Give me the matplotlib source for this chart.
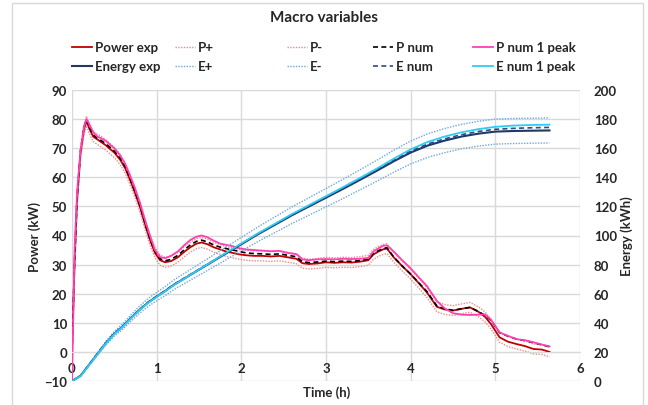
import matplotlib
matplotlib.use("Agg")
import matplotlib.pyplot as plt
from matplotlib.patches import Rectangle

plt.rcParams['font.family'] = ['Lato', 'DejaVu Sans']

t_p = [0, 0.03, 0.06, 0.1, 0.14, 0.17, 0.2, 0.25, 0.3, 0.35, 0.4, 0.45, 0.5, 0.57, 0.63, 0.68,
       0.74, 0.8, 0.86, 0.92, 0.98, 1.04, 1.1, 1.17, 1.25, 1.33, 1.4, 1.47, 1.53, 1.6, 1.67,
       1.75, 1.82, 1.9, 1.98, 2.06, 2.15, 2.25, 2.35, 2.45, 2.55, 2.65, 2.72, 2.8, 2.9, 3.0,
       3.1, 3.2, 3.3, 3.4, 3.5, 3.56, 3.62, 3.68, 3.72, 3.8, 3.9, 3.99, 4.1, 4.19, 4.31, 4.4,
       4.5, 4.6, 4.7, 4.8, 4.88, 4.95, 5.05, 5.15, 5.25, 5.35, 5.45, 5.55, 5.64]

power_exp = [0, 30, 52, 68, 76, 79.5, 77, 74, 73, 72, 71, 69.7, 68.5, 66, 63, 59.5, 55, 50, 44,
             38.5, 34, 31.5, 30.8, 31.2, 32.5, 34.5, 36, 37.2, 37.6, 37, 36, 35.2, 34.5, 34,
             33.5, 33.2, 33, 33, 32.8, 33, 32.5, 32, 30.5, 30.2, 30.4, 30.8, 30.6, 30.8, 30.7,
             31, 31.5, 33.5, 34.5, 35.3, 35.5, 32.5, 29.5, 27, 23.5, 20.5, 15.5, 14.6, 14.2,
             14.8, 15.3, 13.8, 12, 9.5, 5, 3.5, 2.7, 2, 1, 0.8, 0]

p_plus = [1.5, 31.7, 53.7, 69.7, 77.7, 81, 78.7, 75.7, 74.8, 73.9, 72.9, 71.5, 70.3, 67.8, 64.8,
          61.3, 56.8, 51.8, 45.8, 40.3, 35.8, 33.3, 32.5, 32.9, 34.2, 36.2, 37.7, 38.9, 39.3,
          38.7, 37.7, 36.9, 36.2, 35.7, 35.2, 34.9, 34.7, 34.7, 34.5, 34.7, 34.2, 33.7, 32.2,
          31.9, 32.1, 32.5, 32.3, 32.5, 32.4, 32.7, 33.2, 35.2, 36.2, 37, 37.2, 34.2, 31.2,
          28.7, 25.2, 22.2, 17.2, 16.3, 15.9, 16.5, 17, 15.5, 13.7, 11.2, 6.7, 5.2, 4.4, 3.7,
          2.7, 2.5, 1.7]

p_minus = [0, 28.3, 50.3, 66.3, 74.3, 77.8, 75.3, 72.3, 71.3, 70.3, 69.3, 68, 66.8, 64.3, 61.3,
           57.8, 53.3, 48.3, 42.3, 36.8, 32.3, 29.8, 29.1, 29.5, 30.8, 32.8, 34.3, 35.5, 35.9,
           35.3, 34.3, 33.5, 32.8, 32.3, 31.8, 31.5, 31.3, 31.3, 31.1, 31.3, 30.8, 30.3, 28.8,
           28.5, 28.7, 29.1, 28.9, 29.1, 29, 29.3, 29.8, 31.8, 32.8, 33.6, 33.8, 30.8, 27.8,
           25.3, 21.8, 18.8, 13.8, 12.9, 12.5, 13.1, 13.6, 12.1, 10.3, 7.8, 3.3, 1.8, 1, 0.3,
           -0.7, -0.9, -1.7]

p_num = [0, 31, 53, 69, 77, 79.8, 77.5, 74.6, 73.4, 72.5, 71.5, 70.3, 69, 66.5, 63.5, 60, 55.5,
         50.5, 44.5, 39, 34.5, 32, 31.3, 31.8, 33.2, 35.2, 36.8, 38, 38.4, 37.8, 36.8, 36, 35.5,
         35, 34.5, 34, 33.8, 33.7, 33.5, 33.7, 33.2, 32.7, 31, 30.7, 30.9, 31.2, 31, 31.2, 31.1,
         31.4, 31.9, 33.8, 34.8, 35.6, 35.8, 32.6, 29.5, 27, 23.6, 20.8, 15.8, 14.8, 14.3, 14.8,
         15.3, 13.9, 12.5, 10.8, 6.6, 5.4, 4.4, 3.9, 3.2, 2.4, 1.8]

p_num_1peak = [-10, 35, 55, 69, 77, 80, 78.5, 75.5, 74, 73.3, 72.5, 71.2, 70, 67.5, 64.5, 61,
               56.5, 51.5, 45.5, 40, 35, 32.6, 32.2, 33, 34.5, 36.8, 38.5, 39.6, 40, 39.4, 38.3,
               37.2, 36.8, 36.3, 35.6, 35.2, 35, 34.8, 34.6, 34.7, 34, 33.6, 31.8, 31.5, 31.8,
               31.9, 31.8, 32, 31.9, 32, 32.3, 34.5, 35.6, 36.5, 36.6, 34.5, 31.5, 29, 25.5,
               22.7, 17.5, 15, 13.3, 12.8, 12.7, 12.8, 12.9, 11, 6.7, 5.5, 4.4, 4, 3.3, 2.5, 1.9]

t_e = [0, 0.1, 0.2, 0.3, 0.4, 0.5, 0.6, 0.7, 0.8, 0.9, 1.0, 1.1, 1.2, 1.3, 1.4, 1.5, 1.6, 1.7,
       1.8, 1.9, 2.0, 2.2, 2.4, 2.6, 2.8, 3.0, 3.2, 3.4, 3.6, 3.8, 4.0, 4.2, 4.4, 4.6, 4.8, 5.0,
       5.2, 5.4, 5.64]

energy_exp = [0, 3.5, 11, 18.5, 26, 32.5, 37.5, 43.5, 49, 54, 58, 61.8, 66, 69.5, 73, 76.5, 80,
              83.5, 87, 90.5, 94, 101, 107.5, 114, 120, 126, 132, 138.2, 144.5, 151, 157, 161.8,
              165.2, 168, 170, 171.4, 171.8, 172, 172.2]

e_plus = [0, 3.7, 11.6, 19.4, 27.3, 34.1, 39.4, 45.7, 51.5, 56.7, 60.9, 64.9, 69.3, 73, 76.7,
          80.3, 84, 87.7, 91.4, 95, 98.7, 106, 112.9, 119.7, 126, 132.3, 138.6, 145.1, 151.7,
          158.6, 164.9, 169.9, 173.5, 176.4, 178.5, 180, 180.4, 180.6, 180.8]

e_minus = [0, 3.3, 10.5, 17.6, 24.7, 30.9, 35.6, 41.3, 46.6, 51.3, 55.1, 58.7, 62.7, 66, 69.4,
           72.7, 76, 79.3, 82.7, 86, 89.3, 96, 102.1, 108.3, 114, 119.7, 125.4, 131.3, 137.3,
           143.5, 149.2, 153.7, 156.9, 159.6, 161.5, 162.8, 163.2, 163.4, 163.6]

e_num = [0, 3.6, 11.2, 18.8, 26.3, 32.8, 37.8, 43.8, 49.3, 54.3, 58.3, 62.1, 66.3, 69.8, 73.3,
         76.8, 80.3, 83.8, 87.3, 90.8, 94.3, 101.3, 107.8, 114.4, 120.4, 126.5, 132.6, 138.8,
         145.2, 151.8, 158, 162.9, 166.4, 169.3, 171.5, 173, 173.6, 174, 174.3]

e_num_1peak = [0, 3.3, 10.7, 18.2, 25.7, 32.2, 37.3, 43.3, 48.8, 53.8, 57.8, 61.6, 65.8, 69.4,
               73, 76.6, 80.2, 83.8, 87.4, 91, 94.5, 101.6, 108.2, 114.8, 120.9, 127, 133.2,
               139.5, 146, 152.8, 159.2, 164.3, 168, 170.9, 173.1, 174.7, 175.5, 175.9, 176.2]

x_ticks = [0, 1, 2, 3, 4, 5, 6]
p_ticks = [-10, 0, 10, 20, 30, 40, 50, 60, 70, 80, 90]
e_ticks = [0, 20, 40, 60, 80, 100, 120, 140, 160, 180, 200]

W, H = 648, 406
fig = plt.figure(figsize=(W / 100, H / 100), dpi=100)
fig.patches.append(Rectangle((12 / W, -0.05), 631 / W, 1.05 - 4 / H, transform=fig.transFigure,
                             fill=False, edgecolor='#D9D9D9', linewidth=1))
ax = fig.add_axes([72 / W, 1 - 382 / H, 508 / W, 291 / H])
ax2 = ax.twinx()

grid_c = '#D9D9D9'
text_c = '#262626'
fs = 9.5

ax.set_xlim(0, 6)
ax.set_ylim(-10, 90)
ax2.set_ylim(0, 200)
ax.set_xticks(x_ticks)
ax.set_yticks(p_ticks)
ax2.set_yticks(e_ticks)
ax.grid(True, color=grid_c, linewidth=1)
ax.set_axisbelow(True)
for s in ['top', 'left', 'right']:
    ax.spines[s].set_visible(False)
    ax2.spines[s].set_visible(False)
ax2.spines['bottom'].set_visible(False)
ax.spines['bottom'].set_position(('data', 0))
ax.spines['bottom'].set_color(grid_c)
ax.tick_params(axis='both', length=0, labelsize=fs, labelcolor=text_c)
ax.tick_params(axis='x', pad=7)
ax2.tick_params(axis='y', length=0, labelsize=fs, labelcolor=text_c, pad=10)
for lab in ax.get_xticklabels() + ax.get_yticklabels() + ax2.get_yticklabels():
    lab.set_fontweight('bold')

l_pexp, = ax.plot(t_p, power_exp, color='#C00000', lw=1.3, label='Power exp')
l_pp, = ax.plot(t_p, p_plus, color='#EE8A8A', lw=1.0, ls=(0, (1, 1)), label='P+')
l_pm, = ax.plot(t_p, p_minus, color='#EE8A8A', lw=1.0, ls=(0, (1, 1)), label='P-')
l_pnum, = ax.plot(t_p, p_num, color='black', lw=1.2, ls=(0, (3, 2)), label='P num')
l_p1, = ax.plot(t_p, p_num_1peak, color='#FF3FB4', lw=1.3, label='P num 1 peak')

l_eexp, = ax2.plot(t_e, energy_exp, color='#1F3864', lw=1.5, label='Energy exp')
l_ep, = ax2.plot(t_e, e_plus, color='#6FA8DC', lw=1.0, ls=(0, (1, 1)), label='E+')
l_em, = ax2.plot(t_e, e_minus, color='#6FA8DC', lw=1.0, ls=(0, (1, 1)), label='E-')
l_enum, = ax2.plot(t_e, e_num, color='#2F4B8A', lw=1.2, ls=(0, (3, 2)), label='E num')
l_e1, = ax2.plot(t_e, e_num_1peak, color='#2CCDF5', lw=1.3, label='E num 1 peak')

ax.set_xlabel('Time (h)', fontsize=fs, fontweight='bold', color=text_c)
ax.xaxis.label.set_va('center')
ax.xaxis.set_label_coords((327 - 72) / 508, (382 - 393) / 291)
ax.set_ylabel('Power (kW)', fontsize=fs, fontweight='bold', color=text_c)
ax.yaxis.label.set_va('center')
ax.yaxis.set_label_coords((35 - 72) / 508, 0.5)
ax2.set_ylabel('Energy (kWh)', fontsize=fs, fontweight='bold', color=text_c)
ax2.yaxis.label.set_va('center')
ax2.yaxis.set_label_coords((627 - 72) / 508, 0.5)

fig.text(0.5, 1 - 18 / H, 'Macro variables', ha='center', va='center', fontsize=11,
         fontweight='bold', color=text_c)

columns = [(72, l_pexp, l_eexp), (175, l_pp, l_ep), (287, l_pm, l_em),
           (373, l_pnum, l_enum), (473, l_p1, l_e1)]
for x0, h1, h2 in columns:
    leg = fig.legend(handles=[h1, h2], labels=[h1.get_label(), h2.get_label()],
                     loc='center left', bbox_to_anchor=(x0 / W, 1 - 57.8 / H),
                     frameon=False, handlelength=1.5, handletextpad=0.25,
                     labelspacing=0.55, borderpad=0, borderaxespad=0,
                     prop={'weight': 'bold', 'size': fs})
    for txt in leg.get_texts():
        txt.set_color(text_c)

fig.savefig('out.png', dpi=100)
